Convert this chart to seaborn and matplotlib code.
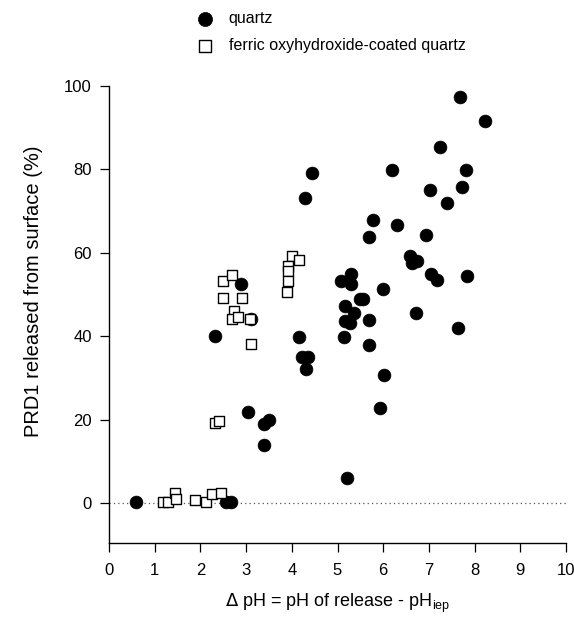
import numpy as np
import pandas as pd
import matplotlib
matplotlib.use("Agg")
import matplotlib.pyplot as plt
import seaborn as sns

# --- data ---
quartz_x = [0.59, 2.57, 2.66, 2.32, 2.88, 3.10, 3.03, 3.39, 3.49, 3.40, 4.16, 4.22, 4.36, 4.30,
            4.29, 4.45, 5.07, 5.29, 5.29, 5.16, 5.49, 5.56, 5.35, 5.16, 5.27, 5.14, 5.20, 5.69,
            5.69, 5.70, 5.77, 5.94, 5.99, 6.01, 6.19, 6.31, 6.59, 6.73, 6.64, 6.71, 6.94, 7.02,
            7.04, 7.18, 7.24, 7.40, 7.64, 7.68, 7.72, 7.81, 7.84, 8.23]
quartz_y = [0.3, 0.4, 0.3, 40.0, 52.4, 44.2, 21.8, 19.0, 20.0, 14.0, 39.9, 34.9, 34.9, 32.1,
            73.0, 79.0, 53.2, 54.8, 52.6, 47.2, 49.0, 49.0, 45.6, 43.6, 43.2, 39.9, 6.1, 43.9,
            37.8, 63.7, 67.8, 22.8, 51.4, 30.6, 79.7, 66.5, 59.1, 57.9, 57.6, 45.5, 64.1, 75.0,
            54.8, 53.4, 85.3, 71.8, 41.9, 97.2, 75.8, 79.8, 54.4, 91.4]

ferric_x = [1.19, 1.30, 1.44, 1.47, 1.88, 2.12, 2.25, 2.44, 2.32, 2.41, 2.49, 2.70, 2.49,
            2.90, 2.74, 2.68, 2.83, 3.09, 3.10, 4.01, 4.16, 3.91, 3.92, 3.91, 3.89]
ferric_y = [0.4, 0.3, 2.4, 1.1, 0.8, 0.4, 2.3, 2.4, 19.3, 19.6, 53.2, 54.6, 49.2,
            49.2, 46.1, 44.0, 44.6, 44.0, 38.2, 59.3, 58.2, 56.8, 55.5, 53.2, 50.6]

series_names = ["quartz", "ferric oxyhydroxide-coated quartz"]
x_ticks = [0, 1, 2, 3, 4, 5, 6, 7, 8, 9, 10]
y_ticks = [0, 20, 40, 60, 80, 100]

df_q = pd.DataFrame({"x": quartz_x, "y": quartz_y})
df_f = pd.DataFrame({"x": ferric_x, "y": ferric_y})

sns.set_theme(style="ticks")
plt.rcParams["font.family"] = ["Liberation Sans", "DejaVu Sans"]
plt.rcParams["text.color"] = "black"
plt.rcParams["axes.labelcolor"] = "black"
plt.rcParams["xtick.color"] = "black"
plt.rcParams["ytick.color"] = "black"

fig = plt.figure(figsize=(5.74, 6.17), dpi=100)
ax = fig.add_axes([0.19, 0.12, 0.796, 0.7414])

ax.axhline(0, color="#555555", lw=0.9, ls=(0, (1, 2.5)), zorder=1)

sns.scatterplot(data=df_q, x="x", y="y", ax=ax, marker="o", s=85, color="black",
                edgecolor="black", linewidth=0.5, label=series_names[0], zorder=3)
sns.scatterplot(data=df_f, x="x", y="y", ax=ax, marker="s", s=62, facecolor="white",
                edgecolor="black", linewidth=1.0, label=series_names[1], zorder=4)

ax.set_xlim(0, 10)
ax.set_ylim(-9.5, 100)
ax.set_xticks(x_ticks)
ax.set_yticks(y_ticks)
ax.tick_params(axis="both", labelsize=12, direction="out", length=6.5, width=0.9,
               color="black", labelcolor="black")
ax.tick_params(axis="x", pad=8)
ax.tick_params(axis="y", pad=6)
for side in ["top", "right"]:
    ax.spines[side].set_visible(False)
for side in ["left", "bottom"]:
    ax.spines[side].set_color("black")
    ax.spines[side].set_linewidth(1.0)

ax.set_xlabel(r"$\Delta$ pH = pH of release - pH$_{\mathregular{iep}}$", fontsize=13, labelpad=10)
ax.set_ylabel("PRD1 released from surface (%)", fontsize=14.5)
ax.yaxis.set_label_coords(-0.145, 0.55)

leg = ax.legend(loc="upper left", bbox_to_anchor=(0.318, 0.992), bbox_transform=fig.transFigure,
                frameon=False, fontsize=11.5, handletextpad=0.5, labelspacing=0.72,
                borderaxespad=0, markerscale=1.1)

fig.savefig("out.png", dpi=100)
